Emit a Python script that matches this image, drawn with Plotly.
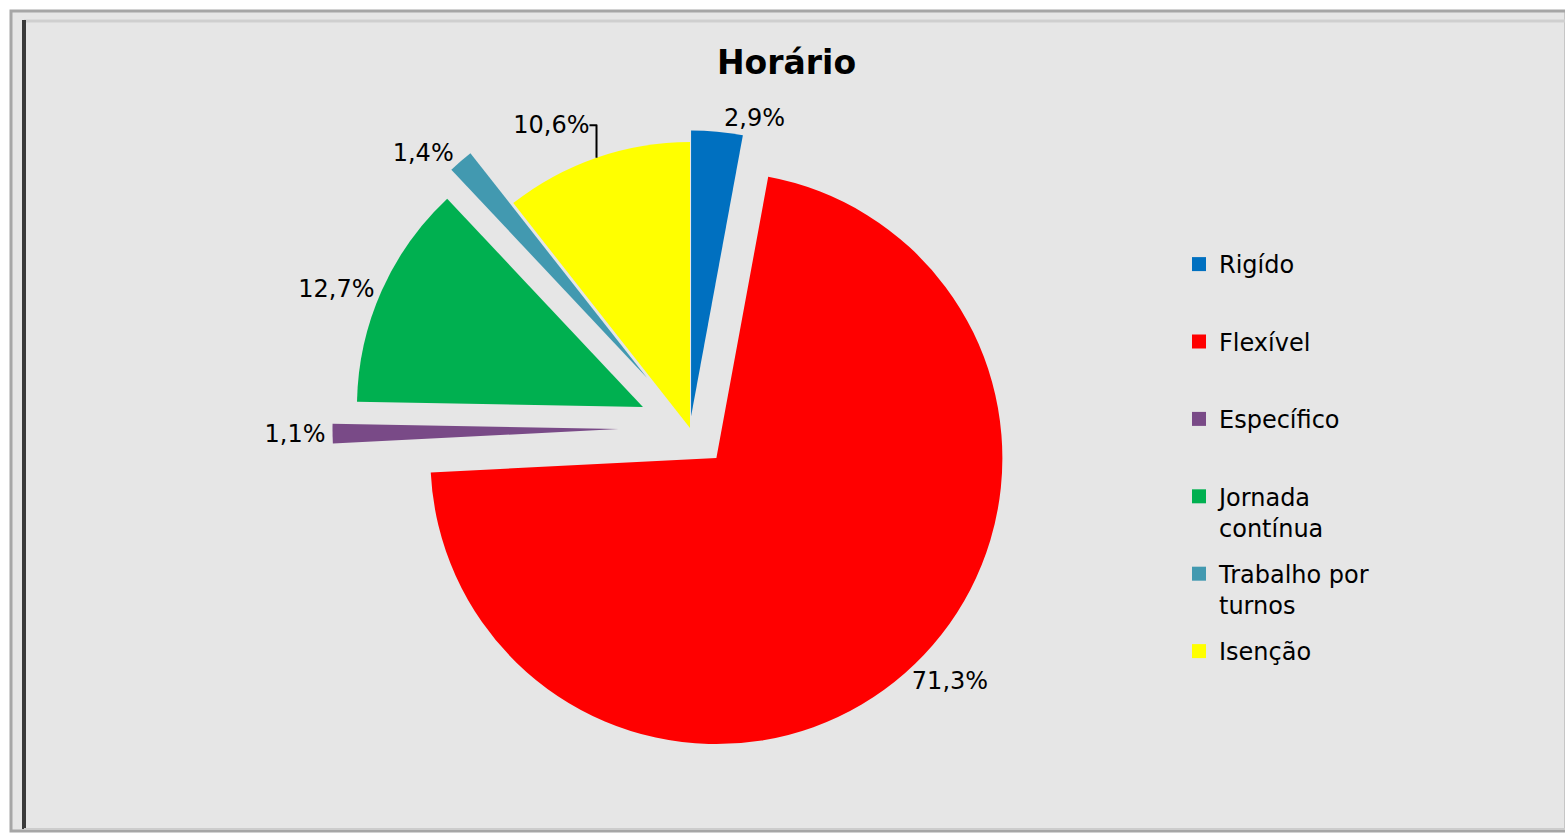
import plotly.graph_objects as go

# Data
categories = ["Rigído", "Flexível", "Específico", "Jornada contínua", "Trabalho por turnos", "Isenção"]
legend_labels = ["Rigído<br> ", "Flexível<br> ", "Específico<br> ", "Jornada<br>contínua",
                 "Trabalho por<br>turnos", "Isenção<br> "]
values = [2.9, 71.3, 1.1, 12.7, 1.4, 10.6]

# Styles
colors = ["#0070C0", "#FF0000", "#794A87", "#00B050", "#4299B0", "#FFFF00"]
pulls = [0.04, 0.14, 0.25, 0.18, 0.23, 0.0]

W, H = 1565, 837
def px(x):
    return x / W
def py(y):
    return 1 - y / H

FONT = "DejaVu Sans"

cx, cy, R = 690, 428, 286
half = R * (1 + max(pulls))

fig = go.Figure()
fig.add_trace(go.Pie(
    labels=categories,
    values=values,
    sort=False,
    direction="clockwise",
    rotation=0,
    pull=pulls,
    marker=dict(colors=colors, line=dict(width=0)),
    texttemplate="%{percent:.1%}",
    textposition="outside",
    textfont=dict(family=FONT, size=24, color="#000000"),
    showlegend=False,
    domain=dict(x=[px(cx - half), px(cx + half)], y=[py(cy + half), py(cy - half)]),
    hoverinfo="label+percent",
))

# legend entries (one per category, so the vertical spacing can be controlled)
for name, col in zip(legend_labels, colors):
    fig.add_trace(go.Scatter(
        x=[None], y=[None], mode="markers", name=name, legendgroup=name,
        marker=dict(symbol="square", size=14, color=col),
        showlegend=True, hoverinfo="skip",
    ))

shapes = [
    dict(type="rect", xref="paper", yref="paper", x0=px(11), x1=px(1566), y0=py(831), y1=py(11),
         fillcolor="#e6e6e6", line=dict(color="#a6a6a6", width=3), layer="below"),
    dict(type="line", xref="paper", yref="paper", x0=px(24), x1=px(1565), y0=py(21), y1=py(21),
         line=dict(color="#cfcfcf", width=3), layer="below"),
    dict(type="line", xref="paper", yref="paper", x0=px(24), x1=px(24), y0=py(20), y1=py(829),
         line=dict(color="#3a3a3a", width=4), layer="below"),
    dict(type="line", xref="paper", yref="paper", x0=px(24), x1=px(1565), y0=py(829), y1=py(829),
         line=dict(color="#cccccc", width=2), layer="below"),
]

fig.update_layout(
    width=W, height=H,
    margin=dict(l=0, r=0, t=0, b=0, autoexpand=False),
    paper_bgcolor="#ffffff",
    plot_bgcolor="rgba(0,0,0,0)",
    separators=",.",
    font=dict(family=FONT, color="#000000"),
    xaxis=dict(visible=False, range=[0, 1]),
    yaxis=dict(visible=False, range=[0, 1]),
    annotations=[dict(text="<b>Horário</b>", x=px(786), y=py(62), xref="paper", yref="paper",
                      xanchor="center", yanchor="middle", showarrow=False,
                      font=dict(family=FONT, size=33, color="#000000"))],
    legend=dict(x=px(1179), xanchor="left", y=py(242), yanchor="top", valign="top",
                font=dict(family=FONT, size=24, color="#000000"), bgcolor="rgba(0,0,0,0)",
                traceorder="grouped", tracegroupgap=12),
    shapes=shapes,
)

fig.write_html("out.html", config={"displayModeBar": False},
               post_script="document.body.style.margin='0px';")
